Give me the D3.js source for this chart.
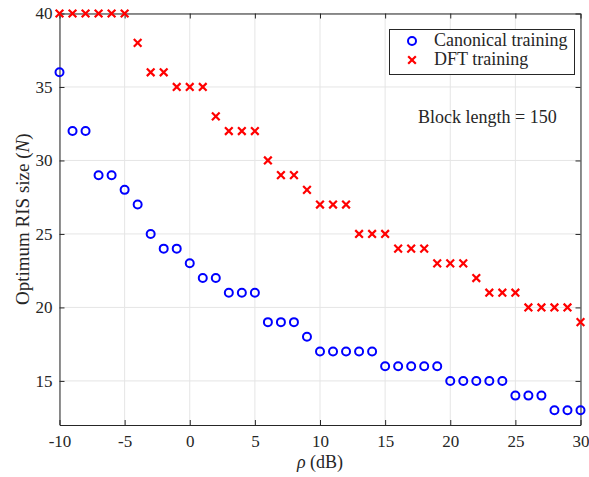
<!DOCTYPE html>
<html>
<head>
<meta charset="utf-8">
<script src="https://cdn.jsdelivr.net/npm/d3@7"></script>
</head>
<body style="margin:0;background:#fff">
<script>
// chart values
var rho = d3.range(-10, 31);
var canonical = [36, 32, 32, 29, 29, 28, 27, 25, 24, 24, 23, 22, 22, 21, 21, 21, 19, 19, 19, 18,
  17, 17, 17, 17, 17, 16, 16, 16, 16, 16, 15, 15, 15, 15, 15, 14, 14, 14, 13, 13, 13];
var dft = [40, 40, 40, 40, 40, 40, 38, 36, 36, 35, 35, 35, 33, 32, 32, 32, 30, 29, 29, 28,
  27, 27, 27, 25, 25, 25, 24, 24, 24, 23, 23, 23, 22, 21, 21, 21, 20, 20, 20, 20, 19];
var xTicks = [-10, -5, 0, 5, 10, 15, 20, 25, 30];
var yTicks = [15, 20, 25, 30, 35, 40];
var seriesNames = ["Canonical training", "DFT training"];

var width = 589, height = 477;
var margin = {left: 59.5, right: 8.5, top: 13.5, bottom: 52};
var fam = "'Liberation Serif'";
var ink = "#262626";

var svg = d3.select("body").append("svg")
  .attr("width", width)
  .attr("height", height);

var x = d3.scaleLinear().domain([-10, 30]).range([margin.left, width - margin.right]);
var y = d3.scaleLinear().domain([12, 40]).range([height - margin.bottom, margin.top]);

function txt(sel, size) {
  return sel.style("font-family", fam).style("font-size", size + "px").style("fill", ink);
}

// grid
svg.append("g").selectAll("line")
  .data(xTicks).enter().append("line")
  .attr("x1", d => x(d)).attr("x2", d => x(d))
  .attr("y1", y(12)).attr("y2", y(40))
  .attr("stroke", "#e5e5e5").attr("stroke-width", 1);
svg.append("g").selectAll("line")
  .data(yTicks).enter().append("line")
  .attr("x1", x(-10)).attr("x2", x(30))
  .attr("y1", d => y(d)).attr("y2", d => y(d))
  .attr("stroke", "#e5e5e5").attr("stroke-width", 1);

// axes, ticks pointing inwards
function styleAxis(g) {
  g.selectAll("path, line").attr("stroke", ink);
  txt(g.selectAll("text"), 17);
}
svg.append("g").attr("transform", "translate(0," + y(12) + ")")
  .call(d3.axisBottom(x).tickValues(xTicks).tickSizeInner(-5).tickSizeOuter(0).tickPadding(10).tickFormat(d => String(d)))
  .call(styleAxis);
svg.append("g").attr("transform", "translate(0," + y(40) + ")")
  .call(d3.axisTop(x).tickValues(xTicks).tickSizeInner(-5).tickSizeOuter(0).tickFormat(""))
  .call(styleAxis);
svg.append("g").attr("transform", "translate(" + x(-10) + ",0)")
  .call(d3.axisLeft(y).tickValues(yTicks).tickSizeInner(-5).tickSizeOuter(0).tickPadding(7).tickFormat(d => String(d)))
  .call(styleAxis);
svg.append("g").attr("transform", "translate(" + x(30) + ",0)")
  .call(d3.axisRight(y).tickValues(yTicks).tickSizeInner(-5).tickSizeOuter(0).tickFormat(""))
  .call(styleAxis);

// markers
var cross = d3.symbol().type(d3.symbolX).size(40);
svg.append("g").selectAll("path")
  .data(rho).enter().append("path")
  .attr("d", cross)
  .attr("transform", (d, i) => "translate(" + x(d) + "," + y(dft[i]) + ")")
  .attr("stroke", "#ff0000").attr("stroke-width", 2.2).attr("fill", "none");
svg.append("g").selectAll("circle")
  .data(rho).enter().append("circle")
  .attr("cx", d => x(d)).attr("cy", (d, i) => y(canonical[i]))
  .attr("r", 4).attr("fill", "none")
  .attr("stroke", "#0000ff").attr("stroke-width", 2);

// legend
var lg = svg.append("g");
lg.append("rect").attr("x", 389.5).attr("y", 29.5).attr("width", 185).attr("height", 45)
  .attr("fill", "#fff").attr("stroke", ink).attr("stroke-width", 1);
lg.append("circle").attr("cx", 412).attr("cy", 41).attr("r", 4)
  .attr("fill", "none").attr("stroke", "#0000ff").attr("stroke-width", 2);
lg.append("path").attr("d", cross).attr("transform", "translate(412,60)")
  .attr("stroke", "#ff0000").attr("stroke-width", 2.2).attr("fill", "none");
txt(lg.append("text").attr("x", 434).attr("y", 46), 18).text(seriesNames[0]);
txt(lg.append("text").attr("x", 434).attr("y", 65), 18).text(seriesNames[1]);

// annotation
txt(svg.append("text").attr("x", 418).attr("y", 123), 18).text("Block length = 150");

// axis labels
var xl = txt(svg.append("text").attr("x", (x(-10) + x(30)) / 2).attr("y", 468)
  .attr("text-anchor", "middle"), 18);
xl.append("tspan").style("font-style", "italic").text("ρ");
xl.append("tspan").text(" (dB)");

var yl = txt(svg.append("text")
  .attr("transform", "translate(29," + ((y(12) + y(40)) / 2) + ") rotate(-90)")
  .attr("text-anchor", "middle"), 19);
yl.append("tspan").text("Optimum RIS size (");
yl.append("tspan").style("font-style", "italic").text("N");
yl.append("tspan").text(")");
</script>
</body>
</html>
